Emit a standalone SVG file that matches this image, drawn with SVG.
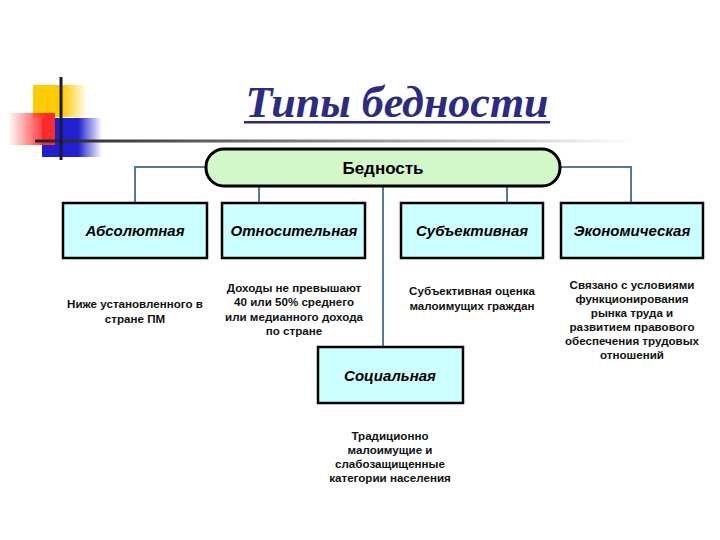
<svg xmlns="http://www.w3.org/2000/svg" width="720" height="540" viewBox="0 0 720 540">
<defs>
<linearGradient id="gY" x1="0" y1="0" x2="1" y2="0"><stop offset="0" stop-color="#ffcc00"/><stop offset="0.55" stop-color="#ffcc00"/><stop offset="1" stop-color="#ffcc00" stop-opacity="0"/></linearGradient>
<linearGradient id="gR" x1="0" y1="0" x2="1" y2="0"><stop offset="0" stop-color="#ff3333" stop-opacity="0"/><stop offset="0.8" stop-color="#ff2a2a"/><stop offset="1" stop-color="#ff2a2a"/></linearGradient>
<linearGradient id="gB" x1="0" y1="0" x2="1" y2="0"><stop offset="0" stop-color="#2020d0"/><stop offset="0.6" stop-color="#2020d0"/><stop offset="1" stop-color="#2020d0" stop-opacity="0"/></linearGradient>
<linearGradient id="gL" x1="0" y1="0" x2="1" y2="0"><stop offset="0" stop-color="#222"/><stop offset="0.5" stop-color="#888"/><stop offset="1" stop-color="#fff"/></linearGradient>
<style>
.box{fill:#ccffff;stroke:#000;stroke-width:2.5}
.lbl{font-family:"Liberation Sans",Arial,sans-serif;font-size:15px;font-weight:bold;font-style:italic;text-anchor:middle;fill:#000}
.desc{font-family:"Liberation Sans",Arial,sans-serif;font-size:11.6px;font-weight:bold;text-anchor:middle;fill:#111}
.con{fill:none;stroke:#56799a;stroke-width:2}
</style>
</defs>
<rect width="720" height="540" fill="#fff"/>
<g id="decor">
<rect x="33" y="85" width="54" height="32" fill="url(#gY)"/>
<rect x="42" y="118" width="60" height="39" fill="url(#gB)"/>
<rect x="8" y="113" width="47" height="32" fill="url(#gR)"/>
<rect x="35" y="139.5" width="600" height="3" fill="url(#gL)"/>
<rect x="59.5" y="77" width="3" height="83" fill="#1a1a40"/>
</g>
<g id="title">
<text x="397" y="117" font-family="'Liberation Serif','Times New Roman',serif" font-size="44" font-weight="bold" font-style="italic" fill="#2b2b85" text-anchor="middle">Типы бедности</text>
<rect x="244" y="121" width="306" height="2.5" fill="#2b2b85"/>
</g>
<g id="connectors">
<path class="con" d="M206 167 H135 V203"/>
<path class="con" d="M560 167 H631 V203"/>
<path class="con" d="M259 186 V203"/>
<path class="con" d="M507 186 V203"/>
<path class="con" d="M383 186 V347"/>
</g>
<g id="node-root">
<rect x="206" y="149" width="354" height="37" rx="18" fill="#d2f7c8" stroke="#000" stroke-width="3"/>
<text x="383" y="174" font-family="'Liberation Sans',Arial,sans-serif" font-size="17" font-weight="bold" text-anchor="middle">Бедность</text>
</g>
<g id="node-absolute">
<rect class="box" x="63" y="203" width="144" height="55"/>
<text class="lbl" x="135" y="236">Абсолютная</text>
<text class="desc" x="135" y="308">Ниже установленного в</text>
<text class="desc" x="135" y="323">стране ПМ</text>
</g>
<g id="node-relative">
<rect class="box" x="222" y="203" width="143" height="55"/>
<text class="lbl" x="294" y="236">Относительная</text>
<text class="desc" x="294" y="292">Доходы не превышают</text>
<text class="desc" x="294" y="306">40 или 50% среднего</text>
<text class="desc" x="294" y="321">или медианного дохода</text>
<text class="desc" x="294" y="335">по стране</text>
</g>
<g id="node-subjective">
<rect class="box" x="401" y="203" width="142" height="55"/>
<text class="lbl" x="472" y="236">Субъективная</text>
<text class="desc" x="472" y="295">Субъективная оценка</text>
<text class="desc" x="472" y="310">малоимущих граждан</text>
</g>
<g id="node-economic">
<rect class="box" x="561" y="203" width="142" height="55"/>
<text class="lbl" x="632" y="236">Экономическая</text>
<text class="desc" x="632" y="289">Связано с условиями</text>
<text class="desc" x="632" y="303">функционирования</text>
<text class="desc" x="632" y="317">рынка труда и</text>
<text class="desc" x="632" y="331">развитием правового</text>
<text class="desc" x="632" y="345">обеспечения трудовых</text>
<text class="desc" x="632" y="359">отношений</text>
</g>
<g id="node-social">
<rect class="box" x="318" y="347" width="145" height="56"/>
<text class="lbl" x="390" y="381">Социальная</text>
<text class="desc" x="390" y="440">Традиционно</text>
<text class="desc" x="390" y="454">малоимущие и</text>
<text class="desc" x="390" y="468">слабозащищенные</text>
<text class="desc" x="390" y="482">категории населения</text>
</g>
</svg>
